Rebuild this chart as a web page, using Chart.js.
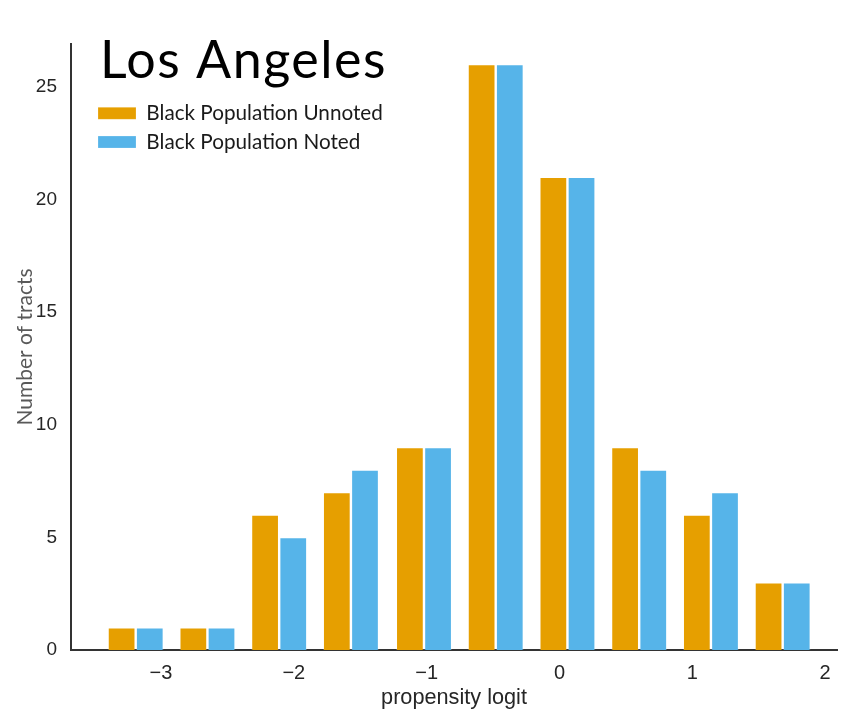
<!DOCTYPE html>
<html>
<head>
<meta charset="utf-8">
<script src="https://cdn.jsdelivr.net/npm/chart.js@4"></script>
<style>
  body { margin: 0; background: #fff; }
  #wrap { width: 856px; height: 718px; position: relative; }
</style>
</head>
<body>
<div id="wrap"><canvas id="grafico"></canvas></div>
<script>
const titulo = 'Los Angeles';
const binCenters = [-3.19, -2.65, -2.11, -1.57, -1.02, -0.48, 0.06, 0.60, 1.14, 1.68];
const unnoted = [1, 1, 6, 7, 9, 26, 21, 9, 6, 3];
const noted = [1, 1, 5, 8, 9, 26, 21, 8, 7, 3];
const xTicks = [-3, -2, -1, 0, 1, 2];
const yTicks = [0, 5, 10, 15, 20, 25];

const toPoints = vals => binCenters.map((x, i) => ({ x: x, y: vals[i] }));

// title drawn inside the plot, top left
const tituloPlugin = {
  id: 'tituloCanto',
  afterDraw(chart) {
    const c = chart.ctx;
    c.save();
    c.font = '52px Lato';
    c.letterSpacing = '1.5px';
    c.fillStyle = '#000';
    c.textBaseline = 'alphabetic';
    c.fillText(titulo, 100, 78);
    c.restore();
  }
};

// legend in chartArea mode starts at top = 0, so place it under the title
const legendaPlugin = {
  id: 'legendaDesloc',
  afterLayout(chart) {
    chart.legend.left += 19;
    chart.legend.top = 95;
  }
};

const ctx = document.getElementById('grafico').getContext('2d');

const chart = new Chart(ctx, {
  type: 'bar',
  data: {
    datasets: [
      {
        label: 'Black Population Unnoted',
        data: toPoints(unnoted),
        backgroundColor: '#E69F00',
        borderColor: 'rgba(255,255,255,0.2)',
        borderWidth: 1
      },
      {
        label: 'Black Population Noted',
        data: toPoints(noted),
        backgroundColor: '#56B4E9',
        borderColor: 'rgba(255,255,255,0.2)',
        borderWidth: 1
      }
    ]
  },
  options: {
    animation: false,
    responsive: true,
    maintainAspectRatio: false,
    categoryPercentage: 0.785,
    barPercentage: 0.985,
    layout: { padding: { top: 44, right: 19, left: 0, bottom: 0 } },
    plugins: {
      tooltip: { enabled: false },
      legend: {
        position: 'chartArea',
        align: 'start',
        labels: {
          boxWidth: 38,
          boxHeight: 12,
          padding: 8,
          color: '#1a1a1a',
          font: { family: 'Lato', size: 20.7 }
        }
      }
    },
    scales: {
      x: {
        type: 'linear',
        min: -3.677,
        max: 2.089,
        offset: false,
        grid: { display: false, drawTicks: false, offset: false },
        border: { display: true, color: '#333', width: 2 },
        afterBuildTicks: s => { s.ticks = xTicks.map(v => ({ value: v })); },
        afterFit: s => { s.height = 68; },
        ticks: {
          padding: 11,
          color: '#262626',
          font: { family: 'Liberation Sans', size: 20 },
          callback: v => String(v).replace('-', '\u2212')
        },
        title: {
          display: true,
          text: 'propensity logit',
          color: '#262626',
          font: { family: 'Liberation Sans', size: 21.7 },
          padding: { top: 0, bottom: 7 }
        }
      },
      y: {
        min: 0,
        max: 26.9,
        grid: { display: false, drawTicks: false },
        border: { display: true, color: '#333', width: 2 },
        afterBuildTicks: s => { s.ticks = yTicks.map(v => ({ value: v })); },
        afterFit: s => { s.width = 71; },
        ticks: {
          padding: 14,
          color: '#262626',
          font: { family: 'Liberation Sans', size: 19 }
        },
        title: {
          display: true,
          text: 'Number of tracts',
          color: '#595959',
          font: { family: 'Lato', size: 21 },
          padding: { top: 13, bottom: 0 }
        }
      }
    }
  },
  plugins: [tituloPlugin, legendaPlugin]
});
</script>
</body>
</html>
